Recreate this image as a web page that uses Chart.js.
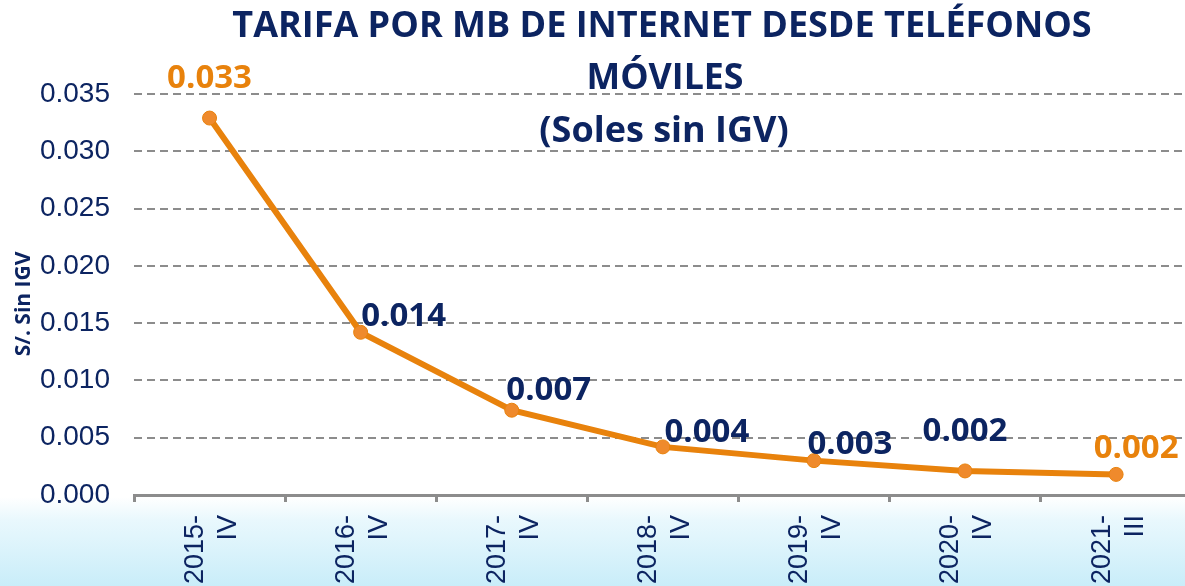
<!DOCTYPE html>
<html>
<head>
<meta charset="utf-8">
<script src="https://cdn.jsdelivr.net/npm/chart.js@4.4.1/dist/chart.umd.min.js"></script>
<style>
  html, body { margin: 0; padding: 0; overflow: hidden; width: 1185px; height: 586px; }
  body { background: linear-gradient(to bottom, #ffffff 0px, #ffffff 497px, #e9f8fd 520px, #c9edf9 586px); }
  #wrap { position: absolute; left: 0; top: 0; width: 1195px; height: 586px; }
</style>
</head>
<body>
<div id="wrap"><canvas id="c" width="1195" height="586"></canvas></div>
<script>
// ---- data ----
const categories = [["2015-", "IV"], ["2016-", "IV"], ["2017-", "IV"], ["2018-", "IV"], ["2019-", "IV"], ["2020-", "IV"], ["2021-", "III"]];
const tarifa = [0.0329, 0.0142, 0.0074, 0.0042, 0.0030, 0.0021, 0.0018];
const valueLabels = ["0.033", "0.014", "0.007", "0.004", "0.003", "0.002", "0.002"];
const titleLines = ["TARIFA POR MB DE INTERNET DESDE TELÉFONOS", "MÓVILES", "(Soles sin IGV)"];
const yAxisTitle = "S/. Sin IGV";

// ---- styling ----
const NAVY = "#0c2461";
const ORANGE = "#e8820c";
const labelColors = [ORANGE, NAVY, NAVY, NAVY, NAVY, NAVY, ORANGE];
const labelOffsets = [[0, -39], [43, -16], [37, -20], [44, -14], [36, -16], [0, -39], [20, -26]];

const labelPlugin = {
  id: 'valueLabels',
  afterDatasetsDraw(chart) {
    const ctx = chart.ctx;
    const meta = chart.getDatasetMeta(0);
    ctx.save();
    ctx.font = "bold 33px 'Open Sans'";
    ctx.textAlign = "center";
    ctx.textBaseline = "middle";
    meta.data.forEach((pt, i) => {
      ctx.fillStyle = labelColors[i];
      ctx.fillText(valueLabels[i], pt.x + labelOffsets[i][0], pt.y + labelOffsets[i][1], 85);
    });
    ctx.restore();
  }
};

const titlePlugin = {
  id: 'bigTitle',
  afterDraw(chart) {
    const ctx = chart.ctx;
    ctx.save();
    ctx.font = "bold 36px 'Open Sans'";
    ctx.fillStyle = NAVY;
    ctx.textAlign = "center";
    ctx.textBaseline = "middle";
    ctx.fillText(titleLines[0], 662, 27, 862);
    ctx.fillText(titleLines[1], 665, 79, 157);
    ctx.fillText(titleLines[2], 664, 132, 252);
    // y-axis title
    ctx.translate(24, 304);
    ctx.rotate(-Math.PI / 2);
    ctx.font = "bold 21px 'Open Sans'";
    ctx.fillText(yAxisTitle, 0, 0, 108);
    ctx.restore();
  }
};

new Chart(document.getElementById('c'), {
  type: 'line',
  data: {
    labels: categories,
    datasets: [{
      data: tarifa,
      borderColor: ORANGE,
      borderWidth: 6,
      pointRadius: 7,
      pointHoverRadius: 7,
      pointBackgroundColor: "#ef8a2c",
      pointBorderColor: ORANGE,
      pointBorderWidth: 1,
      tension: 0,
      fill: false
    }]
  },
  options: {
    responsive: false,
    animation: false,
    events: [],
    layout: { autoPadding: false, padding: { top: 94, right: 0, left: 0, bottom: 0 } },
    plugins: { legend: { display: false }, tooltip: { enabled: false } },
    scales: {
      x: {
        offset: true,
        border: { display: true, color: "#8c8c8c", width: 3 },
        grid: { offset: true, drawOnChartArea: false, drawTicks: true, tickLength: 7, color: "#8c8c8c", lineWidth: 3 },
        ticks: {
          color: NAVY, font: { family: "'Liberation Sans', Arial", size: 27, lineHeight: 1.22 },
          maxRotation: 90, minRotation: 90, padding: 13, autoSkip: false, labelOffset: -14
        },
        afterFit(scale) { scale.height = 91; }
      },
      y: {
        min: 0, max: 0.035,
        border: { display: false, dash: [8, 5] },
        grid: { color: "#8c8c8c", lineWidth: 2, drawTicks: false },
        ticks: {
          stepSize: 0.005, padding: 24, color: NAVY,
          font: { family: "'Liberation Sans', Arial", size: 28 },
          callback: v => v.toFixed(3)
        },
        afterFit(scale) { scale.width = 134; }
      }
    }
  },
  plugins: [labelPlugin, titlePlugin]
});
</script>
</body>
</html>
